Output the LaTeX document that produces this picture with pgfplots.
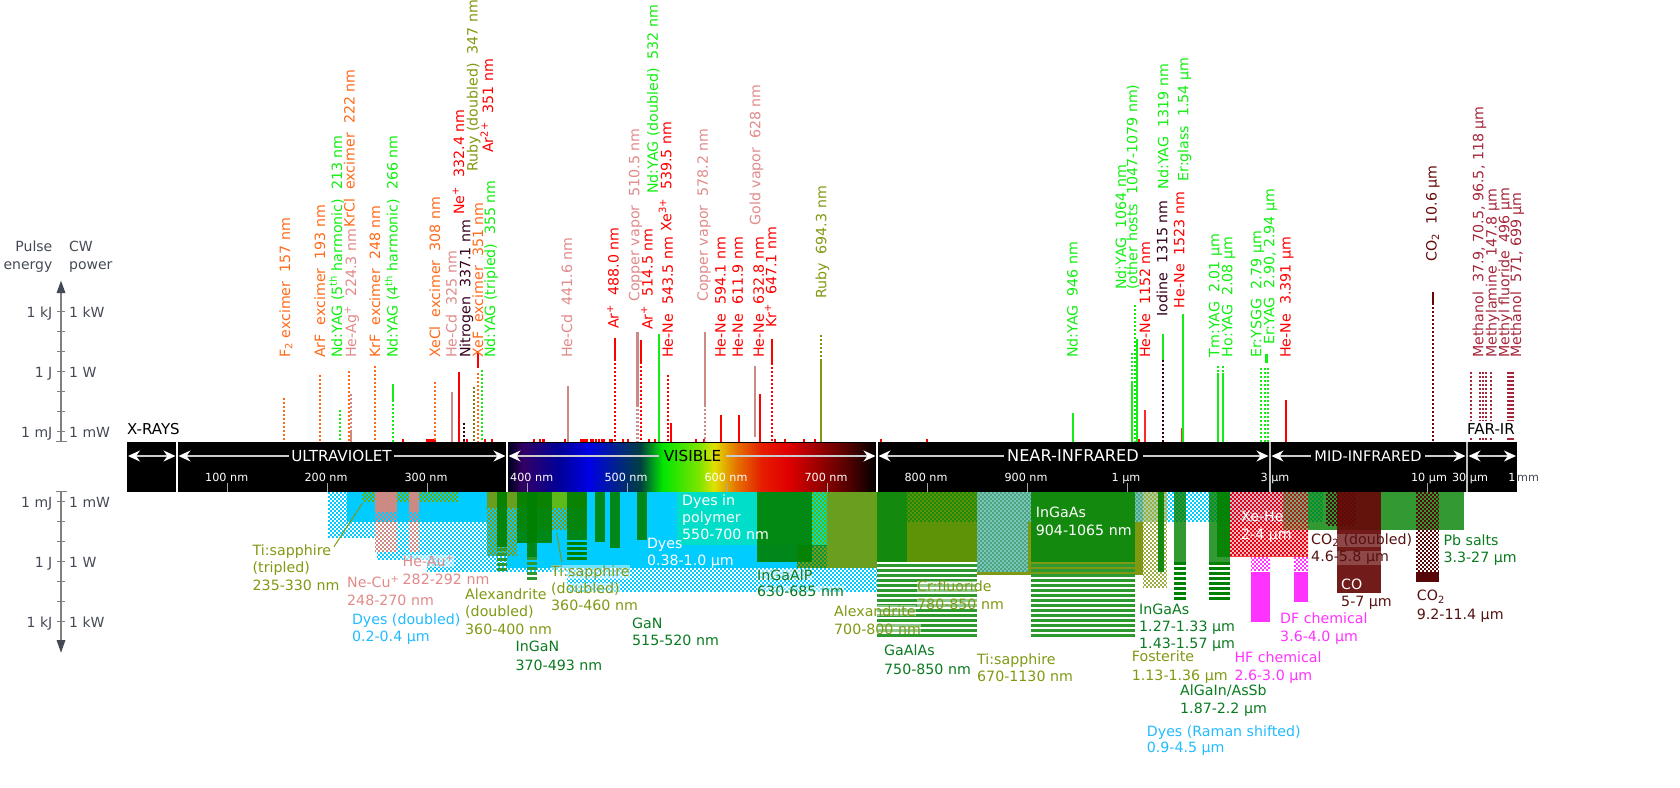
\documentclass[border=0pt]{standalone}
\usepackage{fontspec}
\setmainfont{DejaVu Sans}
\usepackage{pgfplots}
\pgfplotsset{compat=1.18}
\usetikzlibrary{arrows.meta}

% colours
\definecolor{cyand}{HTML}{00CCFF}
\definecolor{cyant}{HTML}{22BBFF}
\definecolor{poly}{HTML}{00DDC8}
\definecolor{olv}{HTML}{7F9912}
\definecolor{olvs}{HTML}{6A9E1E}
\definecolor{grn}{HTML}{008000}
\definecolor{grns}{HTML}{138A0E}
\definecolor{grnt}{HTML}{0A7A20}
\definecolor{hatch}{HTML}{2E992E}
\definecolor{pnk}{HTML}{CC8A85}
\definecolor{pnkt}{HTML}{E08A8A}
\definecolor{org}{HTML}{FF6A1A}
\definecolor{lime}{HTML}{11EE11}
\definecolor{drk}{HTML}{33001A}
\definecolor{mar}{HTML}{A5263A}
\definecolor{co}{HTML}{660808}
\definecolor{cot}{HTML}{551111}
\definecolor{mag}{HTML}{FF33FF}
\definecolor{scalec}{HTML}{444A55}
\definecolor{teala}{HTML}{7CC4B8}
\definecolor{tealb}{HTML}{4AA680}
\definecolor{crb}{HTML}{5F9307}
\definecolor{crc}{HTML}{1D8A0C}

% tikz maps the path's box on the middle 50bp of the shading
\pgfdeclarehorizontalshading{spectrum}{100bp}{
  color(0bp)=(black!90!blue); color(25bp)=(black!90!blue); color(27bp)=(black!50!blue!80!red); color(32bp)=(black!40!blue);
  color(36bp)=(blue!90!black); color(43bp)=(green!50!blue!50!black); color(46bp)=(green!90!black);
  color(51bp)=(green!45!yellow!90!black); color(53bp)=(yellow!88!black); color(56bp)=(orange!90!black);
  color(59.5bp)=(red!75!orange!90!black); color(63bp)=(red!88!black); color(66.5bp)=(red!65!black);
  color(71.5bp)=(red!30!black); color(75bp)=(black); color(100bp)=(black)}

% x1 x2 y1 y2, in picture units
\newcommand{\rect}[5]{\addplot[#1,draw=none] coordinates {(#2,#4)(#3,#4)(#3,#5)(#2,#5)} --cycle;}
\newcommand{\solid}[5]{\rect{fill=#1}{#2}{#3}{#4}{#5}}
% dither: rows of 2px dashes, every other row shifted, same grid everywhere
% optional argument 2 takes the opposite cells
\newcommand{\chk}[6][0]{%
  \pgfmathtruncatemacro{\nr}{(#6-#5)/2}%
  \foreach \r in {1,...,\nr}{%
    \pgfmathsetmacro{\yy}{#5+2*\r-1}%
    \pgfmathsetmacro{\ph}{mod(#3+#1+2*mod(floor(\yy/2),2),4)}%
    \edef\temp{\noexpand\addplot[draw=#2,line width=2pt,dash pattern=on 2pt off 2pt,dash phase=\ph pt] coordinates {(#3,\yy)(#4,\yy)};}\temp
  }}
% stripes: 3px line every 5px
\newcommand{\hst}[5]{%
  \pgfmathtruncatemacro{\nr}{(#5-#4)/5}%
  \foreach \r in {1,...,\nr}{%
    \pgfmathsetmacro{\yy}{#4+5*\r-3.5}%
    \edef\temp{\noexpand\addplot[draw=#1,line width=3pt] coordinates {(#2,\yy)(#3,\yy)};}\temp
  }}
\newcommand{\gr}[4]{\rect{fill=grn,fill opacity=.9}{#1}{#2}{#3}{#4}}
% vertical lines above the bar
\newcommand{\lin}[4]{\addplot[draw=#1,line width=2pt] coordinates {(#2,#3)(#2,#4)};}
\newcommand{\dott}[4]{\addplot[draw=#1,line width=2pt,dash pattern=on 2pt off 2pt] coordinates {(#2,#3)(#2,#4)};}
\newcommand{\stub}[1]{\addplot[draw=red,line width=2pt] coordinates {(#1,439)(#1,442)};}
% labels
\newcommand{\vl}[4]{\node[rotate=90,anchor=base west,inner sep=0pt,text=#1,font=\fontsize{14.2}{16}\selectfont] at (axis cs:#2,#3) {#4};}
\newcommand{\lb}[4]{\node[anchor=base west,inner sep=0pt,text=#1,font=\fontsize{14.2}{16}\selectfont] at (axis cs:#2,#3) {#4};}
\newcommand{\lh}[5][.45]{\node[anchor=base west,inner sep=0pt,text=#2,fill=white,fill opacity=#1,text opacity=1,font=\fontsize{14.2}{16}\selectfont] at (axis cs:#3,#4) {#5};}
\newcommand{\bn}[4][15.2]{\node[text=#2,inner sep=0pt,font=\fontsize{#1}{16}\selectfont,anchor=base] at (axis cs:#3,461) {#4};}
\newcommand{\tk}[3][white]{\node[anchor=base,inner sep=0pt,text=#1,font=\fontsize{11.2}{12}\selectfont] at (axis cs:#2,481) {#3};}
\newcommand{\tm}[1]{\addplot[draw=gray!70,line width=1pt] coordinates {(#1,483)(#1,492)};}
\newcommand{\ar}[2]{\addplot[draw=gray!40,line width=1.4pt,-{Stealth[white,length=12pt,width=11pt]}] coordinates {(#1,456)(#2,456)};}
\newcommand{\al}[2]{\addplot[draw=gray!40,line width=1.4pt,{Stealth[white,length=12pt,width=11pt]}-] coordinates {(#1,456)(#2,456)};}
\newcommand{\ab}[2]{\addplot[draw=gray!40,line width=1.4pt,{Stealth[white,length=12pt,width=11pt]}-{Stealth[white,length=12pt,width=11pt]}] coordinates {(#1,456)(#2,456)};}
\newcommand{\scaletick}[1]{\addplot[draw=gray,line width=1.5pt] coordinates {(57,#1)(65,#1)};}
\newcommand{\sr}[3]{\node[anchor=base east,inner sep=0pt,text=scalec,font=\fontsize{14}{16}\selectfont] at (axis cs:52.5,#1) {#2};\node[anchor=base west,inner sep=0pt,text=scalec,font=\fontsize{14}{16}\selectfont] at (axis cs:69,#1) {#3};}

\begin{document}
\begin{tikzpicture}
\path[use as bounding box] (0,0) rectangle (1680pt,787pt);
\begin{axis}[
  anchor=south west, at={(0,0)},
  scale only axis, width=1680pt, height=787pt,
  xmin=0, xmax=1680, ymin=0, ymax=787, y dir=reverse,
  hide axis, clip=false,
]

%% ---- lower half: pulsed and cw ranges
% dyes, dithered then solid
\chk{cyand}{328}{527}{492}{538}
\chk{cyand}{377}{527}{538}{560}
\chk{cyand}{427}{527}{560}{572}
\chk{cyand}{527}{567}{492}{572}
\chk{cyand}{567}{877}{492}{592}
\chk{cyand}{877}{1323}{492}{522}
\solid{cyand}{347}{507}{492}{521.7}
\solid{cyand}{507}{797}{492}{568.3}
\solid{poly}{677}{827}{492}{545}
% ti:sapphire, alexandrite
\chk{olv!80!green}{362}{458}{492}{502}
\solid{olvs}{487}{587}{492}{508}
\solid{green!40!olive!90!white}{552}{567}{492}{508}
\chk[2]{olv}{487}{517}{508}{556}
\chk{olv}{517}{587}{508}{530}
\chk{olv!70!green}{812}{827}{492}{546}
\solid{cyand!40!green!65!black}{797}{827}{545}{568}
\chk{olv}{797}{827}{546}{568}
\solid{olvs}{827}{877}{492}{568}
% ne-cu, he-au
\solid{pnk}{375}{397}{492}{511.7}
\chk{pnk}{375}{397}{512}{552}
\solid{pnk}{409}{419}{492}{511.7}
\chk{pnk}{409}{419}{512}{552}
% diodes, violet to red
\gr{497}{507}{492}{547.3}
\hst{hatch}{497}{507}{548}{573}
\gr{517}{552}{492}{543.3}
\gr{527}{537}{492}{556.7}
\hst{hatch}{527}{537}{557}{582}
\gr{567}{587}{492}{540}
\hst{grn}{567}{587}{542}{563}
\gr{595}{605}{492}{541.7}
\gr{610}{620}{492}{547.7}
\gr{637}{647}{492}{540}
\gr{757}{812}{492}{561.7}
% near infrared
\solid{grns}{877}{907}{492}{562}
\solid{crb}{907}{977}{492}{562}
\chk{crc}{907}{977}{492}{522}
\hst{hatch}{877}{977}{564}{639}
\solid{teala}{977}{1031}{492}{572}
\chk{tealb}{977}{1031}{492}{572}
\solid{olv}{1028}{1143}{522}{575}
\solid{olv}{977}{1031}{572}{575}
\solid{teala}{1135}{1143}{492}{522}
\chk{tealb}{1135}{1143}{492}{522}
\solid{grns}{1031}{1135}{492}{562}
\hst{hatch}{1031}{1135}{564}{639}
\solid{cyand!30!olv!50!white}{1143}{1167}{492}{522}
\chk{olv!80!white}{1143}{1167}{492}{588}
\gr{1158}{1164}{492}{571.7}
\rect{fill=grn,fill opacity=.8}{1174}{1186}{492}{561.7}
\hst{grn}{1174}{1186}{562}{602}
\rect{fill=grn,fill opacity=.8}{1209}{1230}{492}{561.7}
\hst{grn}{1209}{1230}{562}{602}
\rect{fill=grn,fill opacity=.85}{1217}{1230}{492}{556.7}
% mid infrared
\rect{fill=grn,fill opacity=.8}{1283}{1464.3}{492}{530}
\chk{mag}{1251}{1270}{557}{572}
\solid{mag}{1251.3}{1270}{571.7}{621.7}
\chk{mag}{1294}{1308}{557}{572}
\solid{mag}{1294}{1307.7}{571.7}{601.7}
\rect{fill=red!30!white,fill opacity=.9}{1230}{1307.7}{492}{556.7}
\rect{fill=cyand,fill opacity=.2}{1230}{1307.7}{492}{522}
\chk{red!90!blue}{1230}{1308}{492}{556}
\solid{red!75!white}{1230}{1307.7}{555.5}{557}
\rect{fill=grn,fill opacity=.3}{1283}{1307.7}{492}{530}
\chk{cot!80!black}{1326}{1356}{492}{526}
\rect{fill=co,fill opacity=.92}{1336.7}{1380.7}{492}{592.7}
\chk{co!85!black}{1416}{1439}{492}{572}
\solid{co!85!black}{1416}{1438.7}{571.7}{581.7}
% leader lines
\addplot[draw=olv,line width=1pt] coordinates {(362.5,503)(334,546.7)};
\addplot[draw=olv,line width=1pt] coordinates {(556.7,533)(561.7,561.7)};

%% ---- upper half: single lines
\foreach \x in {403,427,429,431,433,435,464,467,485,492,534.3,540,542.7,544.3,565,581,583.3,585.3,587.3,590.7,593.3,596,599,601.7,604.3,610,612.3,622.7,628,648.7,655.3,696,704,775,785,804,815,880.7,926.8,1139}{
  \edef\temp{\noexpand\stub{\x}}\temp
}
\dott{org}{284}{398}{442}
\dott{org}{320}{375}{442}
\dott{lime}{340}{410}{442}
\dott{org}{349}{370.7}{442}
\dott{pnk}{351}{394}{430}
\lin{pnk}{351}{430}{442}
\dott{org}{375}{365.7}{442}
\lin{lime}{393}{384}{400}
\dott{lime}{393}{400}{442}
\dott{org}{435}{382}{442}
\lin{pnk}{452}{392}{442}
\lin{red}{459.3}{371.7}{442}
\dott{drk}{464}{422.7}{442}
\dott{olive!90!black}{474}{386.7}{442}
\dott{org}{478}{373}{442}
\lin{red}{478}{350.7}{368}
\dott{lime}{482}{370}{442}
\lin{pnk}{568.3}{386}{442}
\lin{red}{615}{338.3}{359}
\dott{red}{615}{359}{442}
\addplot[draw=pnk,line width=3pt] coordinates {(637.3,331.7)(637.3,405)};
\addplot[draw=pnk,line width=3pt,dash pattern=on 2pt off 2pt] coordinates {(637.3,405)(637.3,442)};
\lin{red}{641.3}{340}{361.7}
\dott{red}{641.3}{361.7}{442}
\lin{lime}{658.7}{334}{442}
\dott{red}{667.7}{375}{442}
\lin{red}{670.7}{422.7}{442}
\lin{pnk}{705}{331.7}{405}
\dott{pnk}{705}{405}{442}
\lin{red}{720.7}{415}{442}
\lin{red}{739}{415}{442}
\lin{pnk}{755}{366}{436.7}
\lin{red}{759.7}{394}{442}
\lin{red}{772}{339.3}{363.3}
\dott{red}{772}{363.3}{442}
\dott{olv}{821}{335}{359.3}
\lin{olv}{821}{359.3}{442}
\lin{lime}{1072.9}{412.7}{442}
\dott{lime}{1132.3}{353}{381.7}
\lin{lime}{1132.3}{381.7}{442}
\dott{lime}{1135}{305}{442}
\lin{lime}{1137}{339.3}{442}
\lin{red!85!white}{1145.3}{410}{442}
\lin{lime}{1162.7}{334}{360}
\dott{drk}{1162.7}{360}{442}
\lin{red!85!white}{1181.7}{428.3}{442}
\lin{lime}{1183}{314.3}{442}
\dott{lime}{1218}{365.7}{373}
\lin{lime}{1218}{373}{442}
\dott{lime}{1223}{365.7}{373}
\lin{lime}{1223}{373}{442}
\dott{lime}{1261}{368}{442}
\dott{lime}{1265.3}{368}{442}
\dott{lime}{1267.7}{368}{442}
\addplot[draw=lime,line width=3pt] coordinates {(1266.5,354)(1266.5,363)};
\lin{red}{1286}{400}{442}
\lin{co}{1433}{292.3}{303}
\dott{co}{1433}{303}{442}
\foreach \x in {1470.7,1480,1483,1486,1491,1507.7,1509.5,1511.5,1513}{
  \edef\temp{\noexpand\dott{mar}{\x}{371.7}{420}}\temp
  \edef\temp{\noexpand\dott{mar}{\x}{438}{442}}\temp
}

%% ---- the bar
\solid{black}{127}{1516.7}{442}{492}
\addplot[shade,shading=spectrum,draw=none] coordinates {(508,443)(876,443)(876,491)(508,491)} --cycle;
\solid{white}{176}{178}{442}{492}
\solid{white}{506}{508}{442}{492}
\solid{white}{876}{878}{442}{492}
\solid{lightgray}{1269}{1271}{442}{492}
\solid{lightgray}{1466}{1468}{442}{492}
\tm{227}\tm{327}\tm{427}\tm{527}\tm{627}\tm{727}\tm{827}\tm{927}\tm{1027}\tm{1127}\tm{1427}
\ab{128}{175.5}
\ab{1468.5}{1516}
\al{178.5}{289}
\ar{394}{505.5}
\al{508.5}{659}
\ar{726}{875.5}
\al{878.5}{1003.5}
\ar{1143}{1268.5}
\al{1271.5}{1311}
\ar{1425}{1465.5}

\bn{white}{341.5}{ULTRAVIOLET}
\bn{black}{692.5}{VISIBLE}
\bn[16.2]{white}{1073}{NEAR-INFRARED}
\bn[14.6]{white}{1368}{MID-INFRARED}
\tk{226.7}{100 nm}\tk{326}{200 nm}\tk{426}{300 nm}\tk{531.7}{400 nm}\tk{626}{500 nm}\tk{726}{600 nm}\tk{826}{700 nm}\tk{926}{800 nm}\tk{1026}{900 nm}\tk{1126}{1 µm}\tk{1275}{3 µm}\tk{1429}{10 µm}\tk{1470}{30 µm}
\tk{1512}{1}\tk[scalec]{1528}{mm}
\node[anchor=base west,inner sep=0pt,text=black,font=\fontsize{15}{16}\selectfont] at (axis cs:127,434) {X-RAYS};
\node[anchor=base west,inner sep=0pt,text=black,font=\fontsize{15}{16}\selectfont] at (axis cs:1467,434) {FAR-IR};

%% ---- scale on the left
\addplot[draw=gray,line width=1.5pt] coordinates {(61,292)(61,441.7)};
\addplot[draw=gray,line width=1.5pt] coordinates {(61,491.7)(61,641)};
\addplot[fill=scalec,draw=none] coordinates {(61,280.7)(65.5,293)(56.5,293)} --cycle;
\addplot[fill=scalec,draw=none] coordinates {(61,652.7)(65.5,640)(56.5,640)} --cycle;
\addplot[draw=gray,line width=1.5pt] coordinates {(55.5,441.7)(66.8,441.7)};
\addplot[draw=gray,line width=1.5pt] coordinates {(55.5,491.7)(66.8,491.7)};
\scaletick{311.7}\scaletick{331.7}\scaletick{351.7}\scaletick{371.7}\scaletick{391.7}\scaletick{411.7}\scaletick{431.7}
\scaletick{501.7}\scaletick{521.7}\scaletick{541.7}\scaletick{561.7}\scaletick{581.7}\scaletick{601.7}\scaletick{621.7}
\sr{251}{Pulse}{CW}
\sr{269}{energy}{power}
\sr{317}{1 kJ}{1 kW}
\sr{377}{1 J}{1 W}
\sr{437}{1 mJ}{1 mW}
\sr{507}{1 mJ}{1 mW}
\sr{567}{1 J}{1 W}
\sr{627}{1 kJ}{1 kW}

%% ---- labels of the lines
\vl{org}{290}{358}{F\textsubscript{2} excimer\ \ 157 nm}
\vl{org}{325}{358}{ArF\ \ excimer\ \ 193 nm}
\vl{lime}{342}{358}{Nd:YAG (5\textsuperscript{th} harmonic)\ \ 213 nm}
\vl{pnkt}{356}{358}{He-Ag\textsuperscript{+}\ \ 224.3 nm}
\vl{org}{354.6}{228}{KrCl\ \ excimer\ \ 222 nm}
\vl{org}{380}{358}{KrF\ \ excimer\ \ 248 nm}
\vl{lime}{397.5}{358}{Nd:YAG (4\textsuperscript{th} harmonic)\ \ 266 nm}
\vl{org}{440}{358}{XeCl\ \ excimer\ \ 308 nm}
\vl{pnkt}{456.5}{358}{He-Cd\ \ 325 nm}
\vl{drk}{470.4}{358}{Nitrogen\ \ 337.1 nm}
\vl{red}{464}{215}{Ne\textsuperscript{+}\ \ 332.4 nm}
\vl{org}{483}{358}{XeF\ \ excimer\ \ 351 nm}
\vl{olv}{477.5}{172}{Ruby (doubled)\ \ 347 nm}
\vl{red}{493}{153}{Ar\textsuperscript{2+}\ \ 351 nm}
\vl{lime}{495}{358}{Nd:YAG (tripled)\ \ 355 nm}
\vl{pnkt}{572}{358}{He-Cd\ \ 441.6 nm}
\vl{red}{618.6}{329}{Ar\textsuperscript{+}\ \ 488.0 nm}
\vl{pnkt}{639.3}{302}{Copper vapor\ \ 510.5 nm}
\vl{red}{652.5}{330}{Ar\textsuperscript{+}\ \ 514.5 nm}
\vl{lime}{657.9}{194}{Nd:YAG (doubled)\ \ 532 nm}
\vl{red}{671.4}{232}{Xe\textsuperscript{3+}\ \ 539.5 nm}
\vl{red}{672.9}{358}{He-Ne\ \ 543.5 nm}
\vl{pnkt}{707.9}{302}{Copper vapor\ \ 578.2 nm}
\vl{red}{725.7}{358}{He-Ne\ \ 594.1 nm}
\vl{red}{742.9}{358}{He-Ne\ \ 611.9 nm}
\vl{red}{763.9}{358}{He-Ne\ \ 632.8 nm}
\vl{pnkt}{760.4}{225.7}{Gold vapor\ \ 628 nm}
\vl{red}{776.4}{328}{Kr\textsuperscript{+}\ \ 647.1 nm}
\vl{olv}{826.4}{299}{Ruby\ \ 694.3 nm}
\vl{lime}{1077.5}{358}{Nd:YAG\ \ 946 nm}
\vl{lime}{1126}{290}{Nd:YAG\ \ 1064 nm}
\vl{lime}{1137.3}{290}{(other hosts\ \ 1047-1079 nm)}
\vl{red}{1150}{358}{He-Ne\ \ 1152 nm}
\vl{drk}{1167.3}{316.7}{Iodine\ \ 1315 nm}
\vl{lime}{1168.3}{189.3}{Nd:YAG\ \ 1319 nm}
\vl{red}{1184.3}{308.3}{He-Ne\ \ 1523 nm}
\vl{lime}{1188.3}{181.7}{Er:glass\ \ 1.54 µm}
\vl{lime}{1219.3}{357.3}{Tm:YAG\ \ 2.01 µm}
\vl{lime}{1232.3}{357.3}{Ho:YAG\ \ 2.08 µm}
\vl{lime}{1261.3}{358}{Er:YSGG\ \ 2.79 µm}
\vl{lime}{1274.3}{345}{Er:YAG\ \ 2.90, 2.94 µm}
\vl{red}{1290.7}{358}{He-Ne\ \ 3.391 µm}
\vl{co}{1436.7}{261.7}{CO\textsubscript{2}\ \ 10.6 µm}
\vl{mar}{1483.3}{358}{Methanol\ \ 37.9, 70.5, 96.5, 118 µm}
\vl{mar}{1496.7}{358}{Methylamine\ \ 147.8 µm}
\vl{mar}{1509.3}{358}{Methyl fluoride\ \ 496 µm}
\vl{mar}{1521}{358}{Methanol\ \ 571, 699 µm}

%% ---- labels of the ranges
\lb{olv}{252.5}{555}{Ti:sapphire}
\lb{olv}{252.5}{572}{(tripled)}
\lb{olv}{252.5}{590}{235-330 nm}
\lh{pnkt}{402.5}{566.7}{He-Au\textsuperscript{+}}
\lb{pnkt}{402.5}{584}{282-292 nm}
\lb{pnkt}{347}{587.3}{Ne-Cu\textsuperscript{+}}
\lb{pnkt}{347}{605}{248-270 nm}
\lb{cyant}{351.8}{624}{Dyes (doubled)}
\lb{cyant}{351.8}{641.7}{0.2-0.4 µm}
\lb{olv}{465}{599.3}{Alexandrite}
\lb{olv}{465}{616.7}{(doubled)}
\lb{olv}{465}{634}{360-400 nm}
\lb{grnt}{515.4}{651.7}{InGaN}
\lb{grnt}{515.4}{670}{370-493 nm}
\lh{olv}{551}{576}{Ti:sapphire}
\lh{olv}{551}{593.3}{(doubled)}
\lb{olv}{551}{610.7}{360-460 nm}
\lb{grnt}{632}{628.3}{GaN}
\lb{grnt}{632}{645}{515-520 nm}
\lb{white}{682}{505}{Dyes in}
\lb{white}{682}{522.7}{polymer}
\lb{white}{682}{539}{550-700 nm}
\lb{white}{646.8}{548.3}{Dyes}
\lb{white}{646.8}{565.7}{0.38-1.0 µm}
\lh{grnt}{757}{580}{InGaAlP}
\lh{grnt}{757}{596.7}{630-685 nm}
\lh{olv}{917}{591.7}{Cr:fluoride}
\lh{olv}{917}{609}{780-850 nm}
\lh{olv}{834}{616}{Alexandrite}
\lh{olv}{834}{634}{700-800 nm}
\lb{grnt}{884}{655.7}{GaAlAs}
\lb{grnt}{884}{674}{750-850 nm}
\lb{olv}{977}{664}{Ti:sapphire}
\lb{olv}{977}{681.7}{670-1130 nm}
\lb{white}{1035.7}{517.7}{InGaAs}
\lb{white}{1035.7}{535.7}{904-1065 nm}
\lb{grnt}{1139}{614}{InGaAs}
\lb{grnt}{1139}{631.7}{1.27-1.33 µm}
\lb{grnt}{1139}{648}{1.43-1.57 µm}
\lb{olv}{1131.7}{661.7}{Fosterite}
\lb{olv}{1131.7}{680}{1.13-1.36 µm}
\lb{mag}{1234.3}{662.7}{HF chemical}
\lb{mag}{1234.3}{680}{2.6-3.0 µm}
\lb{grnt}{1180}{695.7}{AlGaIn/AsSb}
\lb{grnt}{1180}{713}{1.87-2.2 µm}
\lb{cyant}{1146.7}{736}{Dyes (Raman shifted)}
\lb{cyant}{1146.7}{752.7}{0.9-4.5 µm}
\lb{mag}{1280}{623.3}{DF chemical}
\lb{mag}{1280}{641}{3.6-4.0 µm}
\lb{white}{1241}{521.7}{Xe-He}
\lb{white}{1241}{539}{2-4 µm}
\lh[.2]{cot}{1311}{544.3}{CO\textsubscript{2} (doubled)}
\lh[.2]{cot}{1311}{561.7}{4.6-5.8 µm}
\lb{white}{1341}{589}{CO}
\lb{cot}{1341}{606.7}{5-7 µm}
\lb{cot}{1416.7}{600.7}{CO\textsubscript{2}}
\lb{cot}{1416.7}{619}{9.2-11.4 µm}
\lb{grnt}{1443.3}{545.7}{Pb salts}
\lb{grnt}{1443.3}{562.7}{3.3-27 µm}
\end{axis}
\end{tikzpicture}
\end{document}
